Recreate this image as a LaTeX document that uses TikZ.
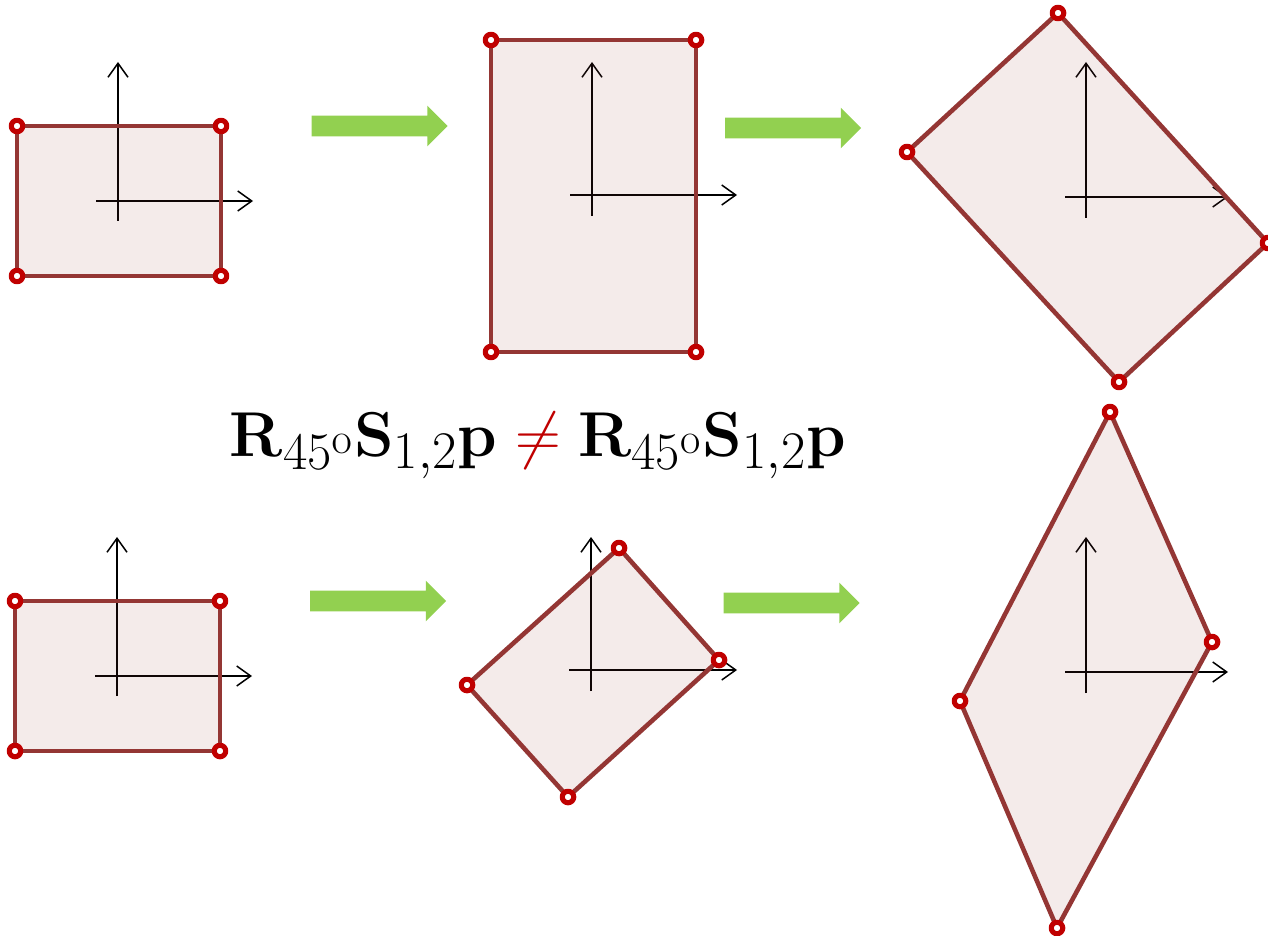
\documentclass[tikz,border=0pt]{standalone}
\usepackage{amsmath}
\usepackage{xcolor}
\usepackage{tikz}
\usetikzlibrary{arrows.meta,shapes.arrows}
\definecolor{eframe}{HTML}{943634}
\definecolor{vred}{HTML}{C00000}
\definecolor{agreen}{HTML}{92D050}

\begin{document}
\begin{tikzpicture}[
  x=0.02cm,y=-0.02cm,
  shp/.style={draw=eframe,line width=2.6pt,line join=round,
              fill=eframe,fill opacity=0.1,draw opacity=1},
  vtx/.style={circle,draw=vred,fill=white,line width=2.9pt,inner sep=0pt,
              minimum size=0.23cm,fill opacity=1},
  ax/.style={draw=black,line width=0.85pt,-{Straight Barb[length=2.8mm,width=4mm]}},
  garrow/.style={single arrow,fill=agreen,draw=none,inner sep=0.2cm,
                 minimum height=2.72cm,single arrow head extend=0.2cm,
                 single arrow tip angle=90}
]
\useasboundingbox (0,0) rectangle (1268,936);

% axes
\coordinate (o1) at (118,201);
\coordinate (o2) at (592,195);
\coordinate (o3) at (1086,197);
\coordinate (o4) at (117,676);
\coordinate (o5) at (591,670);
\coordinate (o6) at (1086,672);
\draw[ax] ([yshift=-0.4cm]o1) -- ++(0,-159);
\draw[ax] ([xshift=-0.44cm]o1) -- ++(157,0);
\draw[ax] ([yshift=-0.42cm]o2) -- ++(0,-154);
\draw[ax] ([xshift=-0.44cm]o2) -- ++(167,0);
\draw[ax] ([yshift=-0.42cm]o3) -- ++(0,-156);
\draw[ax] ([xshift=-0.42cm]o3) -- ++(163,0);
\draw[ax] ([yshift=-0.4cm]o4) -- ++(0,-159);
\draw[ax] ([xshift=-0.44cm]o4) -- ++(157,0);
\draw[ax] ([yshift=-0.42cm]o5) -- ++(0,-154);
\draw[ax] ([xshift=-0.44cm]o5) -- ++(168,0);
\draw[ax] ([yshift=-0.42cm]o6) -- ++(0,-156);
\draw[ax] ([xshift=-0.42cm]o6) -- ++(163,0);

% top row: scale, then rotate
\draw[shp] (17,126) node[vtx] (a1) {} -- (221,126) node[vtx] (a2) {}
  -- (221,276) node[vtx] (a3) {} -- (17,276) node[vtx] (a4) {} -- cycle;
\draw[shp] (491,40) node[vtx] (b1) {} -- (696,40) node[vtx] (b2) {}
  -- (696,352) node[vtx] (b3) {} -- (491,352) node[vtx] (b4) {} -- cycle;
\draw[shp] (1058,13) node[vtx] (c1) {} -- (1268,243) node[vtx] (c2) {}
  -- (1119,382) node[vtx] (c3) {} -- (907,152) node[vtx] (c4) {} -- cycle;

% bottom row: rotate, then scale
\draw[shp] (15,601) node[vtx] (d1) {} -- (220,601) node[vtx] (d2) {}
  -- (220,751) node[vtx] (d3) {} -- (15,751) node[vtx] (d4) {} -- cycle;
\draw[shp] (619,548) node[vtx] (e1) {} -- (719,660) node[vtx] (e2) {}
  -- (568,797) node[vtx] (e3) {} -- (467,685) node[vtx] (e4) {} -- cycle;
\draw[shp] (1110,412) node[vtx] (f1) {} -- (1212,642) node[vtx] (f2) {}
  -- (1057,928) node[vtx] (f3) {} -- (960,701) node[vtx] (f4) {} -- cycle;

% green arrows
\node[garrow] (g1) at (374.5,126) {};
\node[garrow] (g2) at (788,128) {};
\node[garrow] (g3) at (373,601) {};
\node[garrow] (g4) at (786.5,603) {};

% formula
\node[scale=1.45] (eq) at (538,446) {\Huge
  $\mathbf{R}_{45^{\mathrm{o}}}\mathbf{S}_{1,2}\mathbf{p}
   \mathrel{\textcolor{vred}{\neq}}
   \mathbf{R}_{45^{\mathrm{o}}}\mathbf{S}_{1,2}\mathbf{p}$};
\end{tikzpicture}
\end{document}
